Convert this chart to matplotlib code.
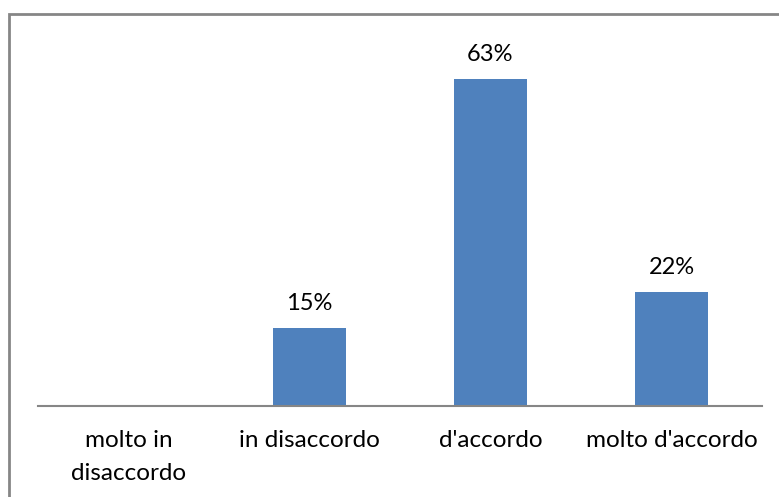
import matplotlib.pyplot as plt
from matplotlib.patches import Rectangle

categories = ["molto in\ndisaccordo", "in disaccordo", "d'accordo", "molto d'accordo"]
values = [0, 15, 63, 22]
labels = ["", "15%", "63%", "22%"]

plt.rcParams['font.family'] = ['Lato', 'DejaVu Sans']

fig = plt.figure(figsize=(7.79, 4.97), dpi=100)
ax = fig.add_axes([38/779, 91/497, 724/779, 363/497])

x = range(len(categories))
bars = ax.bar(x, values, width=0.4, color='#4F81BD')
for b, v, lab in zip(bars, values, labels):
    if lab:
        ax.text(b.get_x() + b.get_width()/2, v + 3.5, lab,
                ha='center', va='baseline', fontsize=17, color='black')

ax.set_xlim(-0.5, len(categories) - 0.5)
ax.set_ylim(0, 70)
ax.set_xticks(list(x))
ax.set_xticklabels(categories, fontsize=17.5, linespacing=1.75, va='top')
ax.tick_params(axis='x', length=0, pad=17)
ax.set_yticks([])
for s in ['top', 'right', 'left']:
    ax.spines[s].set_visible(False)
ax.spines['bottom'].set_color('#868686')
ax.spines['bottom'].set_linewidth(1.5)

# outer chart border (right and bottom edges are cut off)
fig.patches.append(Rectangle((9/779, -0.05), 1.0, 1.05 - 14/497,
                             transform=fig.transFigure, fill=False,
                             edgecolor='#868686', linewidth=2))

fig.savefig('out.png', dpi=100)
